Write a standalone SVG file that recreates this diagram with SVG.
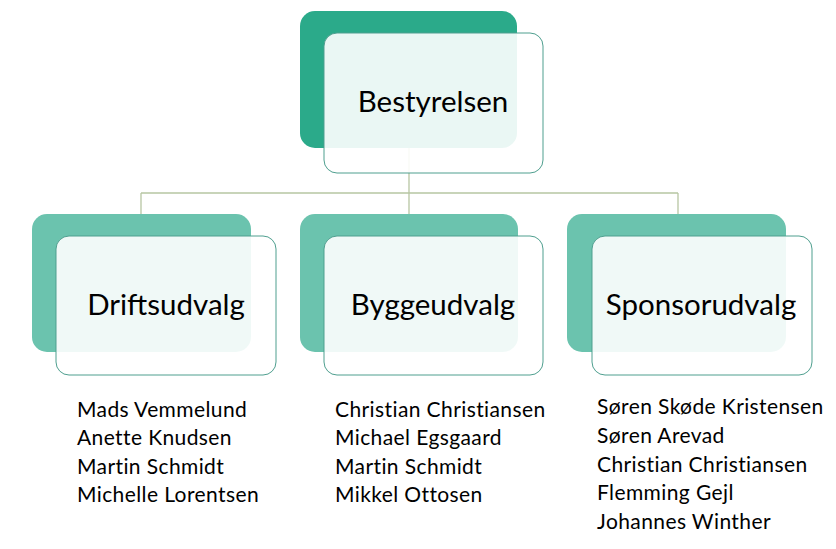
<svg xmlns="http://www.w3.org/2000/svg" width="836" height="549" viewBox="0 0 836 549">
<style>
.back-top{fill:#2BAA8A}
.back{fill:#6BC3AE}
.front{fill:#ffffff;fill-opacity:0.9;stroke:#4F9F8F;stroke-width:1}
.conn{fill:none;stroke:#B7C6A3;stroke-width:1.3}
.lbl{font-family:Lato,"Open Sans",sans-serif;font-size:29.5px;fill:#000;text-anchor:middle}
.lst{font-family:Lato,"Open Sans",sans-serif;font-size:21px;letter-spacing:0.4px;fill:#000}
</style>
<rect width="836" height="549" fill="#fff"/>
<g id="connectors">
<path class="conn" d="M409,148 V193 M141,193 H678 M141,193 V214 M409,193 V214 M678,193 V214"/>
</g>
<g id="bestyrelsen">
<rect class="back-top" x="300" y="11" width="217" height="137" rx="15"/>
<rect class="front" x="324" y="33" width="219" height="140" rx="13"/>
<text class="lbl" x="433" y="112">Bestyrelsen</text>
</g>
<g id="driftsudvalg">
<rect class="back" x="32" y="214" width="219" height="138" rx="15"/>
<rect class="front" x="56" y="236" width="220" height="139" rx="13"/>
<text class="lbl" x="166" y="315">Driftsudvalg</text>
</g>
<g id="byggeudvalg">
<rect class="back" x="300" y="214" width="218" height="138" rx="15"/>
<rect class="front" x="324" y="236" width="219" height="139" rx="13"/>
<text class="lbl" x="433" y="315">Byggeudvalg</text>
</g>
<g id="sponsorudvalg">
<rect class="back" x="567" y="214" width="219" height="138" rx="15"/>
<rect class="front" x="592" y="236" width="220" height="139" rx="13"/>
<text class="lbl" x="701" y="315">Sponsorudvalg</text>
</g>
<g id="drift-list">
<text class="lst" x="77" y="417">Mads Vemmelund</text>
<text class="lst" x="77" y="445">Anette Knudsen</text>
<text class="lst" x="77" y="474">Martin Schmidt</text>
<text class="lst" x="77" y="502">Michelle Lorentsen</text>
</g>
<g id="bygge-list">
<text class="lst" x="335" y="417">Christian Christiansen</text>
<text class="lst" x="335" y="445">Michael Egsgaard</text>
<text class="lst" x="335" y="474">Martin Schmidt</text>
<text class="lst" x="335" y="502">Mikkel Ottosen</text>
</g>
<g id="sponsor-list">
<text class="lst" x="597" y="414">Søren Skøde Kristensen</text>
<text class="lst" x="597" y="443">Søren Arevad</text>
<text class="lst" x="597" y="472">Christian Christiansen</text>
<text class="lst" x="597" y="500">Flemming Gejl</text>
<text class="lst" x="597" y="529">Johannes Winther</text>
</g>
</svg>
